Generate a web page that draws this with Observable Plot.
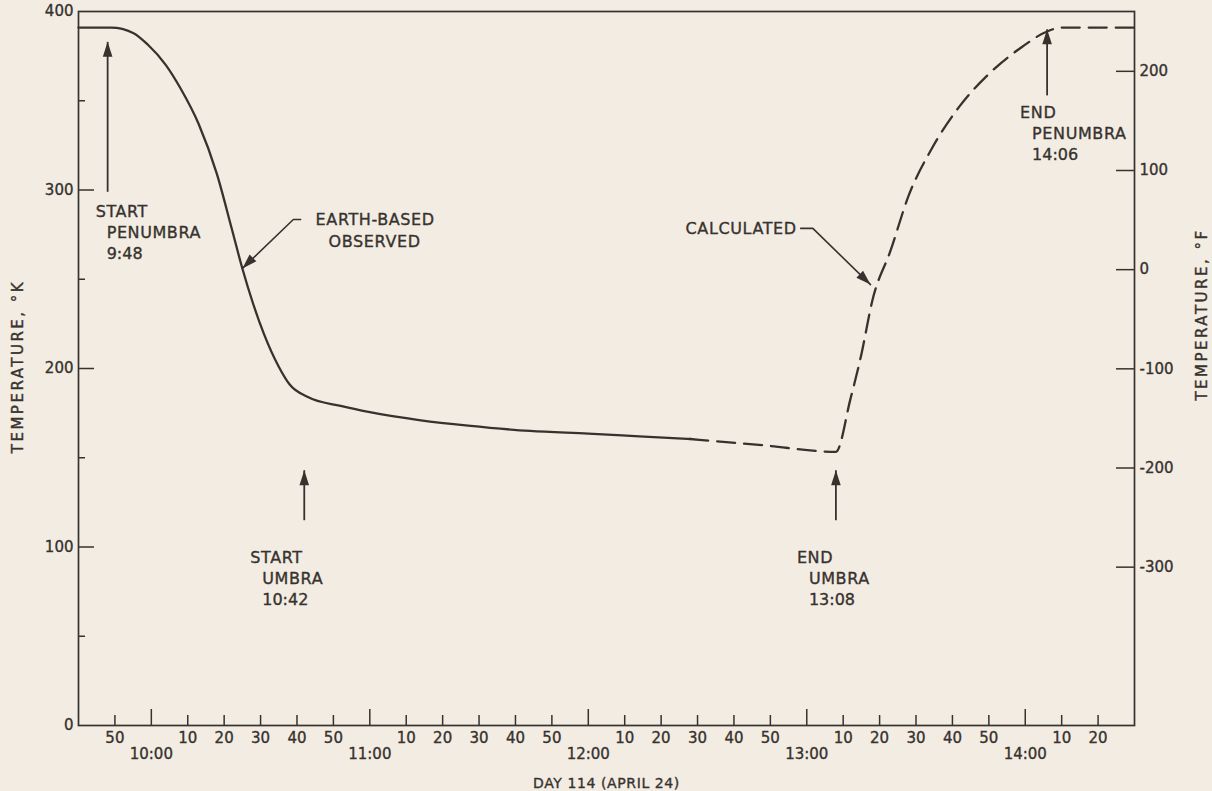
<!DOCTYPE html>
<html>
<head>
<meta charset="utf-8">
<script src="https://cdn.jsdelivr.net/npm/d3@7"></script>
<script src="https://cdn.jsdelivr.net/npm/@observablehq/plot@0.6"></script>
<style>
  html, body { margin: 0; padding: 0; background: #f2ece3; }
  #chart { width: 1212px; height: 791px; }
</style>
</head>
<body>
<div id="chart"></div>
<script>
// ---------------- DATA ----------------
// Earth-based observed temperature (solid line), K
const observedTimes = ["09:40","09:49","09:55","09:59","10:04","10:08","10:13","10:18","10:22","10:25","10:28","10:31","10:35","10:38","10:43","10:52","11:00","11:14","11:27","11:44","12:00","12:14","12:28"];
const observedK     = [391, 391, 388, 381.5, 370, 357, 337, 309, 279, 256, 236, 219, 201, 191, 184, 179, 175.5, 171, 168, 165, 163.5, 162, 160.5];

// Calculated temperature (dashed line), K
const calcTimes = ["12:28","12:48","13:08","13:12","13:15","13:18","13:23","13:28","13:34","13:42","13:50","13:59","14:06","14:10","14:30"];
const calcK     = [160.5, 157, 153.3, 183, 208, 238, 266, 297, 322, 347, 365, 380, 388.8, 391, 391];

// Axis ticks
const minuteTicks = ["09:50","10:10","10:20","10:30","10:40","10:50","11:10","11:20","11:30","11:40","11:50","12:10","12:20","12:30","12:40","12:50","13:10","13:20","13:30","13:40","13:50","14:10","14:20"];
const hourTicks   = ["10:00","11:00","12:00","13:00","14:00"];
const kLabels     = [0, 100, 200, 300, 400];
const kMajorTicks = [100, 200, 300];
const kMinorTicks = [50, 150, 250, 350];
const fTicks      = [-300, -200, -100, 0, 100, 200];

// Eclipse events (vertical arrows)
const eventTimes  = ["09:48","10:42","13:08","14:06"];
const eventLabels = [["START","PENUMBRA","9:48"],["START","UMBRA","10:42"],["END","UMBRA","13:08"],["END","PENUMBRA","14:06"]];
const eventTailK  = [299, 115, 115, 353];
const eventTipK   = [383, 143, 143, 390];
const eventTextK  = [288, 94, 94, 343];

// Curve labels with leaders
const earthLeaderTimes = ["10:41","10:39","10:25"];
const earthLeaderK     = [283.5, 283.5, 256];
const calcLeaderTimes  = ["12:58:20","13:01:40","13:17:30"];
const calcLeaderK      = [278.5, 278.5, 247];

// ---------------- LAYOUT ----------------
const W = 1212, H = 791;
const mL = 78, mR = 78, mT = 11, mB = 66;
const innerW = W - mL - mR, innerH = H - mT - mB;
const ink = "#37322e";
const font = "'DejaVu Sans', sans-serif";

const T = s => { const [h, m, sec = 0] = s.split(":").map(Number); return new Date(Date.UTC(1967, 3, 24, h, m, sec)); };
const F2K = f => (f + 459.67) * 5 / 9;

const observed = observedTimes.map((t, i) => ({time: T(t), k: observedK[i]}));
const calculated = calcTimes.map((t, i) => ({time: T(t), k: calcK[i]}));
const events = eventTimes.map((t, i) => ({time: T(t), tail: eventTailK[i], tip: eventTipK[i], textK: eventTextK[i], lines: eventLabels[i]}));
const earthLeader = earthLeaderTimes.map((t, i) => ({time: T(t), k: earthLeaderK[i]}));
const calcLeader = calcLeaderTimes.map((t, i) => ({time: T(t), k: calcLeaderK[i]}));

// filled arrowhead symbol, tip at origin, rotated by deg (clockwise, 0 = up)
function head(deg) {
  const a = deg * Math.PI / 180, c = Math.cos(a), s = Math.sin(a);
  const pts = [[0, 0], [-4.8, 15], [4.8, 15]].map(([x, y]) => [x * c - y * s, x * s + y * c]);
  return { draw(ctx) { ctx.moveTo(...pts[0]); ctx.lineTo(...pts[1]); ctx.lineTo(...pts[2]); ctx.closePath(); } };
}

const thick = {stroke: ink, strokeWidth: 0.35};
const txt = {fill: ink, fontSize: 16, fontFamily: font, ...thick};
const tick = {fill: ink, fontSize: 15, ...thick};
const firstDx = [-12, -54, -39, -27];
const restDx  = [-1, -42, -27, -15];
const eventTextMarks = events.flatMap((e, i) => e.lines.map((line, j) =>
  Plot.text([e], {x: "time", y: "textK", text: () => line, textAnchor: "start",
    dx: j === 0 ? firstDx[i] : restDx[i], dy: j * 21, ...txt})));

const plot = Plot.plot({
  width: W, height: H,
  marginLeft: mL, marginRight: mR, marginTop: mT, marginBottom: mB,
  style: {background: "transparent", fontFamily: font, color: ink},
  x: {type: "utc", domain: [T("09:40"), T("14:30")], axis: null},
  y: {domain: [0, 400], axis: null},
  marks: [
    Plot.frame({stroke: ink, strokeWidth: 1.7}),
    // bottom axis ticks & labels
    Plot.ruleX(minuteTicks, {x: T, insetTop: innerH - 10, stroke: ink, strokeWidth: 1.5}),
    Plot.ruleX(hourTicks, {x: T, insetTop: innerH - 16, stroke: ink, strokeWidth: 1.5}),
    Plot.text(minuteTicks, {x: T, frameAnchor: "bottom", dy: 17, text: d => String(+d.slice(3)), ...tick}),
    Plot.text(hourTicks, {x: T, frameAnchor: "bottom", dy: 33, text: d => d, ...tick}),
    Plot.text(["DAY 114 (APRIL 24)"], {frameAnchor: "bottom", dy: 62, text: d => d, ...tick, fontSize: 14}),
    // left axis (K)
    Plot.ruleY(kMajorTicks, {y: d => d, insetRight: innerW - 16, stroke: ink, strokeWidth: 1.5}),
    Plot.ruleY(kMinorTicks, {y: d => d, insetRight: innerW - 7, stroke: ink, strokeWidth: 1.5}),
    Plot.text(kLabels, {y: d => d, frameAnchor: "left", dx: -5, textAnchor: "end", text: d => String(d), ...tick}),
    Plot.text(["TEMPERATURE, °K"], {frameAnchor: "left", dx: -60, dy: -2, rotate: -90, textAnchor: "middle", text: d => d, ...tick}),
    // right axis (F)
    Plot.ruleY(fTicks, {y: F2K, insetLeft: innerW - 18, stroke: ink, strokeWidth: 1.5}),
    Plot.text(fTicks, {y: F2K, frameAnchor: "right", dx: 5, textAnchor: "start", text: d => String(d), ...tick}),
    Plot.text(["TEMPERATURE, °F"], {frameAnchor: "right", dx: 68, dy: -54, rotate: -90, textAnchor: "middle", text: d => d, ...tick}),
    // curves
    Plot.line(observed, {x: "time", y: "k", curve: "monotone-x", stroke: ink, strokeWidth: 2.3}),
    Plot.line(calculated, {x: "time", y: "k", curve: "monotone-x", stroke: ink, strokeWidth: 2.3, strokeDasharray: "18,9"}),
    // event arrows
    Plot.link(events, {x1: "time", x2: "time", y1: "tail", y2: "tip", stroke: ink, strokeWidth: 1.8}),
    Plot.dot(events, {x: "time", y: "tip", symbol: head(0), r: 5, fill: ink, stroke: "none"}),
    ...eventTextMarks,
    // Earth-based label
    Plot.line(earthLeader, {x: "time", y: "k", stroke: ink, strokeWidth: 1.6}),
    Plot.dot(earthLeader.slice(-1), {x: "time", y: "k", symbol: head(-135), r: 5, fill: ink, stroke: "none"}),
    Plot.text(earthLeader.slice(0, 1), {x: "time", y: "k", text: () => "EARTH-BASED", textAnchor: "start", dx: 15, ...txt}),
    Plot.text(earthLeader.slice(0, 1), {x: "time", y: "k", text: () => "OBSERVED", textAnchor: "start", dx: 28, dy: 22, ...txt}),
    // Calculated label
    Plot.line(calcLeader, {x: "time", y: "k", stroke: ink, strokeWidth: 1.6}),
    Plot.dot(calcLeader.slice(-1), {x: "time", y: "k", symbol: head(134), r: 5, fill: ink, stroke: "none"}),
    Plot.text(calcLeader.slice(0, 1), {x: "time", y: "k", text: () => "CALCULATED", textAnchor: "end", dx: -4, ...txt})
  ]
});

plot.querySelectorAll("text").forEach(t => {
  if (t.textContent.startsWith("TEMPERATURE")) t.style.letterSpacing = "2.5px";
  else if (/[A-Z]/.test(t.textContent)) t.style.letterSpacing = "0.6px";
});
document.getElementById("chart").appendChild(plot);
</script>
</body>
</html>
